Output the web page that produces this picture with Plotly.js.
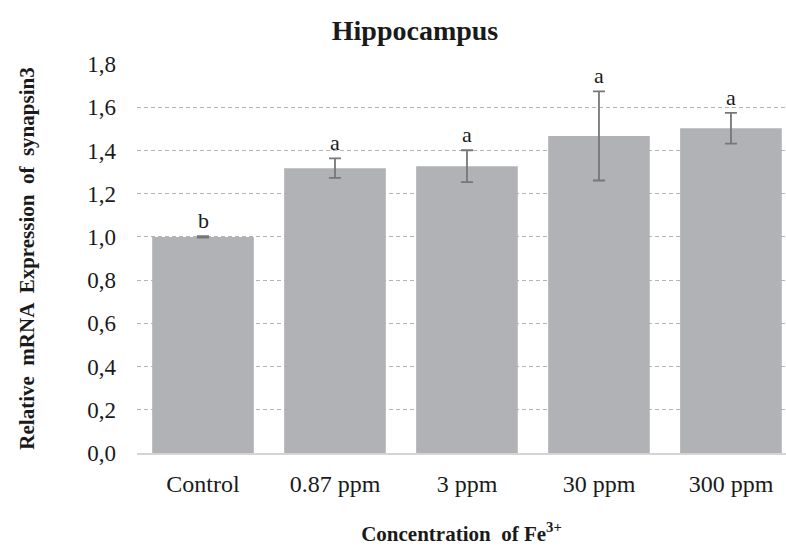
<!DOCTYPE html>
<html>
<head>
<meta charset="utf-8">
<script src="https://cdn.plot.ly/plotly-3.0.1.min.js"></script>
<style>html,body{margin:0;padding:0;background:#fff;}#chart{width:786px;height:547px;}</style>
</head>
<body>
<div id="chart"></div>
<script>
const categories = ["Control", "0.87 ppm", "3 ppm", "30 ppm", "300 ppm"];
const means = [1.000, 1.318, 1.327, 1.467, 1.503];
const errors = [0.003, 0.045, 0.074, 0.206, 0.071];
const letters = ["b", "a", "a", "a", "a"];
const yTickVals = [0, 0.2, 0.4, 0.6, 0.8, 1.0, 1.2, 1.4, 1.6, 1.8];

const serif = "Liberation Serif, Times New Roman, serif";
const txt = "#1a1a1a";

const trace = {
  type: "bar",
  x: categories,
  y: means,
  marker: {color: "#b1b2b6"},
  error_y: {type: "data", array: errors, visible: true, color: "#76777a", thickness: 1.8, width: 6},
  hoverinfo: "x+y"
};

const annotations = categories.map((c, i) => ({
  x: c, y: means[i] + errors[i], xref: "x", yref: "y",
  text: letters[i], showarrow: false, yanchor: "bottom", yshift: 1,
  font: {family: serif, size: 22, color: txt}
}));

const layout = {
  width: 786, height: 547,
  margin: {l: 137, r: 0, t: 64, b: 94},
  paper_bgcolor: "#fff", plot_bgcolor: "#fff",
  separators: ",.",
  bargap: 0.23,
  showlegend: false,
  title: {text: "<b>Hippocampus</b>", x: 0.528, xref: "container", xanchor: "center", y: 0.945, yref: "container", yanchor: "middle",
          font: {family: serif, size: 28, color: txt}},
  xaxis: {
    type: "category", range: [-0.5, 4.417],
    showgrid: false, showline: true, linecolor: "#d4d4d4", linewidth: 1.5,
    ticks: "", ticklabelstandoff: 9,
    tickfont: {family: serif, size: 24, color: txt},
    title: {text: "<b>Concentration  of Fe<sup>3+</sup></b>", standoff: 30, font: {family: serif, size: 21, color: txt}}
  },
  yaxis: {
    range: [0, 1.8], tickvals: yTickVals, tickformat: ".1f",
    showgrid: true, gridcolor: "#b4b4b4", griddash: "4px,3px", gridwidth: 1,
    zeroline: false, showline: false, ticks: "", ticklabelstandoff: 20,
    tickfont: {family: serif, size: 23, color: txt},
    title: {text: "<b>Relative  mRNA  Expression  of  synapsin3</b>", standoff: 46, font: {family: serif, size: 21, color: txt}}
  },
  annotations: annotations
};

Plotly.newPlot("chart", [trace], layout, {displayModeBar: false, staticPlot: true});
</script>
</body>
</html>
